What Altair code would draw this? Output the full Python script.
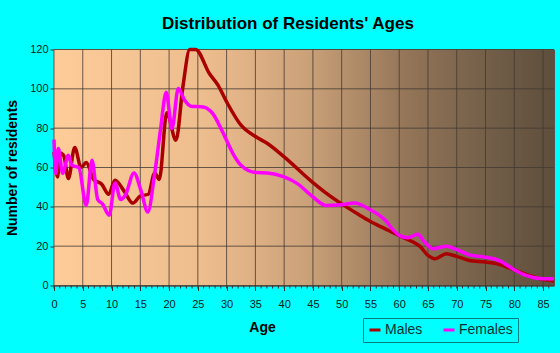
import altair as alt
import pandas as pd

male_age = [0, 0.6, 1.1, 1.7, 2.5, 3.6, 4.7, 5.6, 6.9, 8.3, 9.5, 10.6, 12.1, 13.7, 15.0,
            16.4, 17.5, 18.3, 19.6, 21.2, 22.4, 23.6, 24.6, 27, 28.5, 30, 32.5, 35.1, 37.1,
            40, 44.9, 47.3, 50, 53, 55, 57.5, 60, 62.4, 63.6, 65, 66.2, 68.2, 70, 72.2, 75,
            77.4, 80, 82.6, 85, 86.9]
male_val = [67.9, 55.2, 67.4, 66, 54.4, 70.2, 60, 62.5, 53.9, 51.5, 46.4, 53.5, 48.4, 41.9, 45.5,
            46.4, 57.2, 53.9, 87.8, 73.9, 101, 120, 120, 107.8, 101.9, 93.4, 81.5, 75.6, 72.2,
            65.4, 52.6, 47, 41.5, 36, 32.5, 28.9, 25.3, 22.1, 19.9, 15.3, 13.6, 16.1, 14.8, 12.7, 11.9,
            10.7, 8, 5.1, 3.1, 2.2]

female_age = [0, 0.3, 0.75, 1.5, 2.5, 3.1, 4.3, 5.6, 6.6, 7.6, 8.4, 9.6, 10.6, 11.6, 12.4,
              13.9, 15.1, 16.3, 17.5, 18.5, 19.5, 20.5, 21.6, 22.7, 23.8, 25.9, 27.6, 29.3,
              31.1, 32.5, 35.1, 37.1, 40, 42.3, 44.9, 47.3, 49.9, 52.2, 55, 57.5, 58.9, 60,
              61.5, 63.2, 64.4, 65.9, 68.2, 70, 72.2, 75, 77.4, 80, 82, 85, 86.9]
female_val = [74.2, 56.9, 69.6, 57, 66.2, 61.1, 60, 40.8, 63.7, 43.7, 41.6, 35.7, 52.1, 43.7, 45.9,
              57.2, 48.4, 37.4, 56.9, 79, 98.2, 79.8, 100.2, 94.2, 91.2, 90.8, 87.4, 78.1,
              67.1, 61.1, 57.4, 57.2, 55.2, 51.8, 45.3, 40.7, 41.1, 41.9, 38.5, 33.4, 28.4, 25.5,
              24.3, 26, 22.1, 18.7, 19.9, 18.2, 15.6, 14.4, 12.7, 8, 5.1, 3.4, 3.4]

x_ticks = list(range(0, 90, 5))
y_ticks = [0, 20, 40, 60, 80, 100, 120]
minor_ticks = list(range(0, 87))

FONT = "Liberation Sans"
W, H = 500, 236

df = pd.concat([
    pd.DataFrame({"age": male_age, "value": male_val, "sex": "Males"}),
    pd.DataFrame({"age": female_age, "value": female_val, "sex": "Females"}),
])

xscale = alt.Scale(domain=[0, 86.9], nice=False, zero=False)
yscale = alt.Scale(domain=[0, 120], nice=False)

xaxis = alt.Axis(values=x_ticks, title="Age", grid=False, domain=True,
                 domainColor="#555555", tickColor="#333333", tickSize=5,
                 labelFont=FONT, labelFontSize=11, labelColor="#0a2020",
                 labelPadding=8, titleFont=FONT, titleFontSize=14,
                 titleFontWeight="bold", titleColor="#000000",
                 titleX=208, titlePadding=11, labelFlush=False,
                 labelOverlap=False)
yaxis = alt.Axis(values=y_ticks, title="Number of residents", grid=False,
                 domainColor="#555555", tickColor="#333333", tickSize=4,
                 labelFont=FONT, labelFontSize=11, labelColor="#0a2020",
                 labelPadding=2, titleFont=FONT, titleFontSize=14,
                 titleFontWeight="bold", titleColor="#000000",
                 titleX=-42, titleY=H / 2, titleAngle=-90,
                 titleAlign="center", titleBaseline="middle",
                 labelOverlap=False, labelFlush=False)

bg = alt.Chart(pd.DataFrame({"a": [0]})).mark_rect(
    fill=alt.Gradient(
        gradient="linear", x1=0, x2=1, y1=0, y2=0,
        stops=[
            alt.GradientStop(offset=0, color="#FDCC99"),
            alt.GradientStop(offset=0.3, color="#EEBD8E"),
            alt.GradientStop(offset=0.5, color="#CCA27A"),
            alt.GradientStop(offset=0.7, color="#957659"),
            alt.GradientStop(offset=0.85, color="#76614A"),
            alt.GradientStop(offset=1, color="#5E4E3C"),
        ],
    )
).encode(x=alt.value(0), x2=alt.value(W), y=alt.value(0), y2=alt.value(H))

vgrid = alt.Chart(pd.DataFrame({"age": x_ticks})).mark_rule(
    color="#433a32", strokeWidth=1, opacity=0.8
).encode(x=alt.X("age:Q", scale=xscale, axis=xaxis))

hgrid = alt.Chart(pd.DataFrame({"value": y_ticks})).mark_rule(
    color="#433a32", strokeWidth=1, opacity=0.8
).encode(y=alt.Y("value:Q", scale=yscale, axis=yaxis))

minor = alt.Chart(pd.DataFrame({"age": minor_ticks})).mark_rule(
    color="#333333", strokeWidth=1
).encode(x=alt.X("age:Q", scale=xscale, axis=xaxis), y=alt.value(H), y2=alt.value(H + 3))

lines = alt.Chart(df).mark_line(strokeWidth=3.5, interpolate="monotone").encode(
    x=alt.X("age:Q", scale=xscale, axis=xaxis),
    y=alt.Y("value:Q", scale=yscale, axis=yaxis),
    color=alt.Color("sex:N",
                    scale=alt.Scale(domain=["Males", "Females"], range=["#AA0000", "#FF00FF"]),
                    legend=alt.Legend(title=None, orient="none", legendX=309, legendY=268.5,
                                      direction="horizontal", symbolType="stroke",
                                      symbolStrokeWidth=3, symbolSize=120,
                                      labelFont=FONT, labelFontSize=14, labelColor="#0a3030",
                                      strokeColor="#008080", padding=5, columnPadding=14,
                                      labelOffset=3)),
    detail="sex:N",
)

chart = alt.layer(bg, vgrid, hgrid, minor, lines).properties(
    width=W, height=H,
    title=alt.TitleParams("Distribution of Residents' Ages", font=FONT, fontSize=17,
                          fontWeight="bold", color="#000000", anchor="middle",
                          dx=-16, offset=10),
    background="#00FFFF",
    padding={"left": 54, "top": 49.5, "right": 6, "bottom": 67.5},
    autosize="none",
).configure_view(stroke="#555555", strokeWidth=1)

chart.save("out.html", embed_options={"renderer": "svg", "actions": False})
